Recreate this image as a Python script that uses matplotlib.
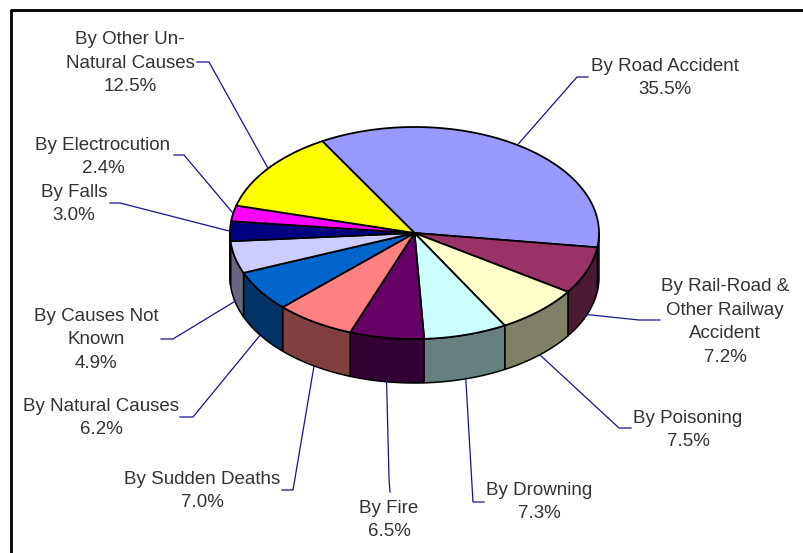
import numpy as np
import matplotlib
matplotlib.use('Agg')
import matplotlib.pyplot as plt

categories = ['By Road Accident', 'By Rail-Road &\nOther Railway\nAccident', 'By Poisoning',
              'By Drowning', 'By Fire', 'By Sudden Deaths', 'By Natural Causes',
              'By Causes Not\nKnown', 'By Falls', 'By Electrocution',
              'By Other Un-\nNatural Causes']
shares = [35.5, 7.2, 7.5, 7.3, 6.5, 7.0, 6.2, 4.9, 3.0, 2.4, 12.5]
colors = ['#9999FF', '#993366', '#FFFFCC', '#CCFFFF', '#660066', '#FF8080',
          '#0066CC', '#CCCCFF', '#000080', '#FF00FF', '#FFFF00']

# layout, in pixels of the picture
CX, CY = 414.5, 233
RX, RY = 184.5, 106
DEPTH = 44
START_ANGLE = 120

label_pos = [(665, 78), (725, 322), (688, 430), (539, 502), (389, 520), (202, 491),
             (101, 418), (96, 340), (74, 204), (103, 157), (130, 63)]
leader_elbow = [[(577, 77), (588, 77)], [(639, 320), (660, 320)], [(619, 428), (631, 428)],
                [(473, 502), (484, 502)], [(389, 478), (390, 492)], [(293, 490), (282, 490)],
                [(193, 417), (180, 417)], [(173, 339), (161, 339)], [(120, 203), (110, 203)],
                [(184, 155), (174, 155)], [(209, 62), (197, 62)]]


def rim(angles, drop=0):
    angles = np.radians(angles)
    return CX + RX * np.cos(angles), CY + drop - RY * np.sin(angles)


def darker(color):
    r, g, b = matplotlib.colors.to_rgb(color)
    return (r * 0.5, g * 0.5, b * 0.5)


def draw_side(ax, a1, a2, color):
    # only the part of the rim facing the viewer has a wall
    lo, hi = max(a2, -180), min(a1, 0)
    if a1 > 180:
        lo, hi = max(a2, 180) - 360, a1 - 360
    if lo >= hi:
        return
    t = np.linspace(lo, hi, 60)
    x, y = rim(t)
    xb, yb = rim(t[::-1], DEPTH)
    ax.fill(np.r_[x, xb], np.r_[y, yb], facecolor=darker(color), edgecolor='black',
            linewidth=1.1, joinstyle='round', zorder=2)


def main():
    fig = plt.figure(figsize=(8.04, 5.53), dpi=100)
    ax = fig.add_axes([0, 0, 1, 1])
    ax.set_xlim(0, 804)
    ax.set_ylim(553, 0)
    ax.axis('off')

    # chart frame, cut by the picture on the right and at the bottom
    ax.plot([11, 11, 804], [553, 10, 10], color='black', linewidth=2, zorder=1)

    ends = START_ANGLE - np.cumsum(shares) * 3.6
    starts = np.r_[START_ANGLE, ends[:-1]]

    for a1, a2, color in zip(starts, ends, colors):
        draw_side(ax, a1, a2, color)

    for a1, a2, color in zip(starts, ends, colors):
        x, y = rim(np.linspace(a1, a2, 120))
        ax.fill(np.r_[CX, x], np.r_[CY, y], facecolor=color, edgecolor='black',
                linewidth=1.3, joinstyle='round', zorder=3)

    for i, (a1, a2) in enumerate(zip(starts, ends)):
        mid = (a1 + a2) / 2
        front = np.sin(np.radians(mid)) < 0
        x0, y0 = rim(mid, DEPTH if front else 0)
        points = [(x0, y0)] + leader_elbow[i]
        ax.plot(*zip(*points), color='#14148c', linewidth=0.9, zorder=4)
        ax.text(label_pos[i][0], label_pos[i][1], f'{categories[i]}\n{shares[i]:.1f}%',
                ha='center', va='center', ma='center', color='#333333',
                family='Liberation Sans', fontsize=13.5, linespacing=1.5, zorder=5)

    fig.savefig('out.png', dpi=100)


if __name__ == '__main__':
    main()
